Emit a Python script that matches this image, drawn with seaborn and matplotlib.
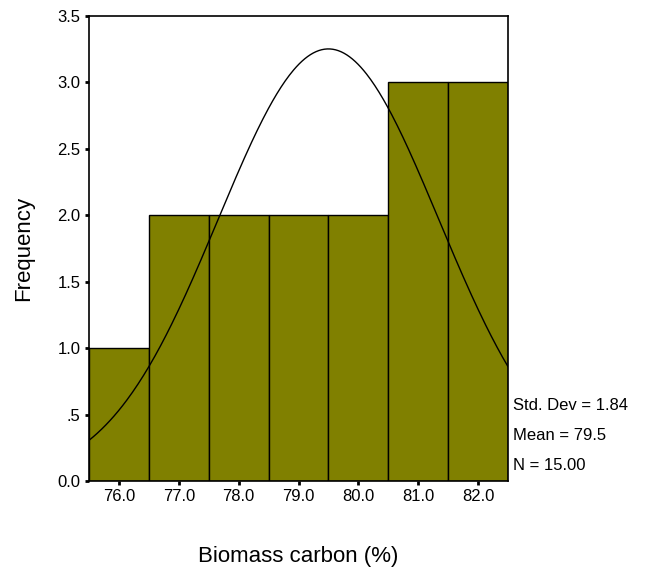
import numpy as np
import pandas as pd
import matplotlib
matplotlib.use("Agg")
import matplotlib.pyplot as plt
import seaborn as sns

# Data
bin_centers = [76.0, 77.0, 78.0, 79.0, 80.0, 81.0, 82.0]
counts = [1, 2, 2, 2, 2, 3, 3]
x_tick_labels = ["76.0", "77.0", "78.0", "79.0", "80.0", "81.0", "82.0"]
y_ticks = [0.0, 0.5, 1.0, 1.5, 2.0, 2.5, 3.0, 3.5]
y_tick_labels = ["0.0", ".5", "1.0", "1.5", "2.0", "2.5", "3.0", "3.5"]
std_dev = 1.84
mean = 79.5
n = 15

sns.set_theme(style="white", rc={"text.color": "black", "axes.labelcolor": "black",
                                 "xtick.color": "black", "ytick.color": "black"})
plt.rcParams["font.family"] = ["Liberation Sans", "DejaVu Sans"]

fig = plt.figure(figsize=(6.52, 5.67), dpi=100)
ax = fig.add_axes([89 / 652, 1 - 481 / 567, (508 - 89) / 652, (481 - 16) / 567])

df = pd.DataFrame({"x": bin_centers, "count": counts})
edges = [c - 0.5 for c in bin_centers] + [bin_centers[-1] + 0.5]
sns.histplot(data=df, x="x", weights="count", bins=edges, ax=ax,
             color="#808000", alpha=1.0, edgecolor="black", linewidth=1.0)

# Fitted normal curve
xs = np.linspace(edges[0], edges[-1], 300)
binw = 1.0
ys = n * binw / (std_dev * np.sqrt(2 * np.pi)) * np.exp(-0.5 * ((xs - mean) / std_dev) ** 2)
sns.lineplot(x=xs, y=ys, ax=ax, color="black", linewidth=1.0)

ax.set_xlim(edges[0], edges[-1])
ax.set_ylim(0, 3.5)
ax.set_xticks(bin_centers)
ax.set_xticklabels(x_tick_labels, fontsize=12)
ax.set_yticks(y_ticks)
ax.set_yticklabels(y_tick_labels, fontsize=12)
ax.tick_params(axis="both", which="major", direction="out", length=3, width=2,
               color="black", labelcolor="black", pad=3, bottom=True, left=True)
for sp in ax.spines.values():
    sp.set_visible(True)
    sp.set_color("black")
    sp.set_linewidth(1.2)

ax.set_xlabel("Biomass carbon (%)", fontsize=16, labelpad=30, color="black")
ax.set_ylabel("Frequency", fontsize=16, labelpad=17, color="black")

stats_x = 513 / 652
fig.text(stats_x, 1 - 405 / 567, f"Std. Dev = {std_dev:.2f}", fontsize=12, va="center", ha="left", color="black")
fig.text(stats_x, 1 - 436 / 567, f"Mean = {mean:.1f}", fontsize=12, va="center", ha="left", color="black")
fig.text(stats_x, 1 - 466 / 567, f"N = {n:.2f}", fontsize=12, va="center", ha="left", color="black")

fig.savefig("out.png", dpi=100)
